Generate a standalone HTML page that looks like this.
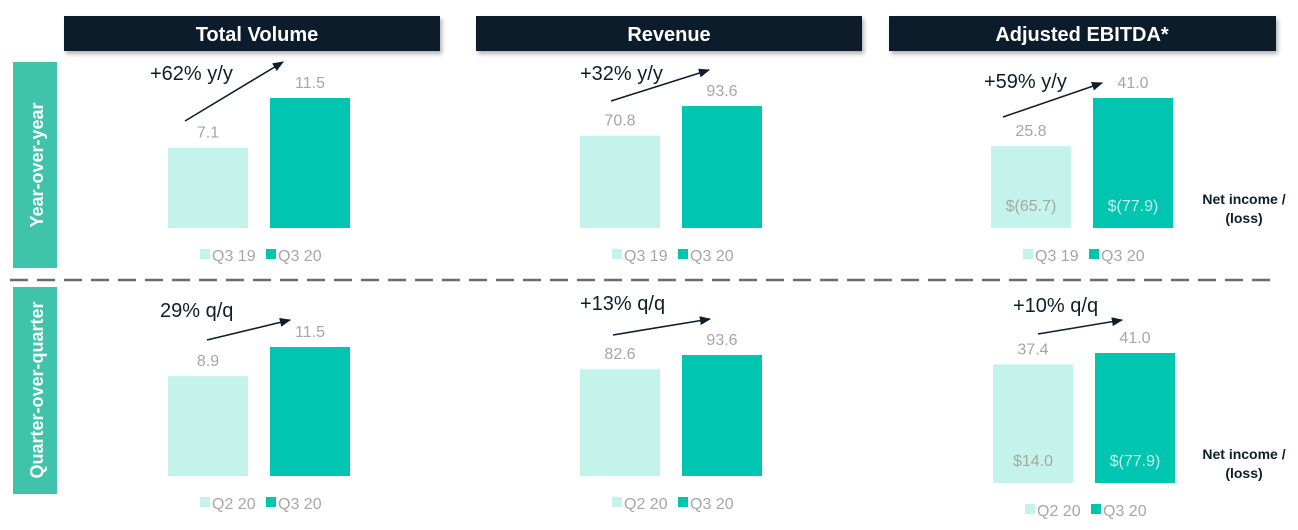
<!DOCTYPE html>
<html><head><meta charset="utf-8"><style>
html,body{margin:0;padding:0;background:#fff;}
svg{display:block;font-family:"Liberation Sans",sans-serif;}
</style></head><body>
<svg id="c" width="1298" height="530" viewBox="0 0 1298 530">
<defs><marker id="ah" viewBox="0 0 10 10" refX="9" refY="5" markerWidth="7" markerHeight="7" orient="auto"><path d="M0,1 L10,5 L0,9 z" fill="#0b1f2c"/></marker>
<filter id="sh" x="-5%" y="-20%" width="110%" height="160%"><feDropShadow dx="2" dy="3" stdDeviation="2" flood-color="#000" flood-opacity="0.3"/></filter></defs>
<g><rect x="64" y="16" width="376" height="35" fill="#0b1f2c" filter="url(#sh)"/><text x="257" y="41" text-anchor="middle" fill="#fff" font-size="20" font-weight="bold">Total Volume</text></g>
<g><rect x="476" y="16" width="386" height="35" fill="#0b1f2c" filter="url(#sh)"/><text x="669" y="41" text-anchor="middle" fill="#fff" font-size="20" font-weight="bold">Revenue</text></g>
<g><rect x="889" y="16" width="387" height="35" fill="#0b1f2c" filter="url(#sh)"/><text x="1082" y="41" text-anchor="middle" fill="#fff" font-size="20" font-weight="bold">Adjusted EBITDA*</text></g>
<g><rect x="13" y="62" width="44" height="206" fill="#3fc3aa"/><text transform="translate(43,165) rotate(-90)" text-anchor="middle" fill="#fff" font-size="18" font-weight="bold">Year-over-year</text></g>
<g><rect x="13" y="287" width="44" height="207" fill="#3fc3aa"/><text transform="translate(43,390) rotate(-90)" text-anchor="middle" fill="#fff" font-size="18" font-weight="bold">Quarter-over-quarter</text></g>
<line x1="10" y1="280" x2="1275" y2="280" stroke="#6b6b6b" stroke-width="2.5" stroke-dasharray="18,9"/>
<g id="marks"></g>
</svg>
<script>
const panelNames = ["tv-yoy","rev-yoy","ebitda-yoy","tv-qoq","rev-qoq","ebitda-qoq"];
const prevValues = [7.1, 70.8, 25.8, 8.9, 82.6, 37.4];
const currValues = [11.5, 93.6, 41.0, 11.5, 93.6, 41.0];
const prevLabels = ["Q3 19","Q3 19","Q3 19","Q2 20","Q2 20","Q2 20"];
const currLabels = ["Q3 20","Q3 20","Q3 20","Q3 20","Q3 20","Q3 20"];
const growthLabels = ["+62% y/y","+32% y/y","+59% y/y","29% q/q","+13% q/q","+10% q/q"];
const netIncomePrev = [null,null,"$(65.7)",null,null,"$14.0"];
const netIncomeCurr = [null,null,"$(77.9)",null,null,"$(77.9)"];
// layout (not data)
const L = [
 {x:168,base:228,maxH:130,ann:[150,80],ar:[185,121,283,62],leg:261},
 {x:580,base:228,maxH:122,ann:[580,80],ar:[611,101,709,70],leg:261},
 {x:991,base:228,maxH:130,ann:[984,88],ar:[1003,117,1102,83],leg:261},
 {x:168,base:476,maxH:129,ann:[160,317],ar:[207,340,290,320],leg:509},
 {x:580,base:476,maxH:121,ann:[580,310],ar:[613,335,710,319],leg:509},
 {x:993,base:483,maxH:130,ann:[1013,312],ar:[1038,334,1122,320],leg:516}
];
const NS="http://www.w3.org/2000/svg", g=document.getElementById('marks');
function mk(t,a,txt){const e=document.createElementNS(NS,t);for(const k in a)e.setAttribute(k,a[k]);if(txt!=null)e.textContent=txt;g.appendChild(e);return e;}
panelNames.forEach((n,i)=>{
 const l=L[i], mx=Math.max(prevValues[i],currValues[i]);
 const y=v=>l.base-v/mx*l.maxH;
 const bw=80, x1=l.x, x2=l.x+102;
 let b=mk('rect',{x:x1,y:y(prevValues[i]),width:bw,height:l.base-y(prevValues[i]),fill:'#c4f3eb'});
 
 
 b=mk('rect',{x:x2,y:y(currValues[i]),width:bw,height:l.base-y(currValues[i]),fill:'#00c5b0'});
 
 
 let t=mk('text',{x:x1+40,y:y(prevValues[i])-10,'text-anchor':'middle','font-size':16,fill:'#a6a6a6'},prevValues[i].toFixed(1));
 
 
 t=mk('text',{x:x2+40,y:y(currValues[i])-10,'text-anchor':'middle','font-size':16,fill:'#a6a6a6'},currValues[i].toFixed(1));
 
 
 t=mk('text',{x:l.ann[0],y:l.ann[1],'font-size':20,fill:'#0b1f2c'},growthLabels[i]);
 
 
 const a=mk('line',{x1:l.ar[0],y1:l.ar[1],x2:l.ar[2],y2:l.ar[3],stroke:'#0b1f2c','stroke-width':1.6,'marker-end':'url(#ah)'});
 
 
 const lx=x1+32;
 let s=mk('rect',{x:lx,y:l.leg-12,width:10,height:10,fill:'#c4f3eb'});
 
 
 t=mk('text',{x:lx+12,y:l.leg,'font-size':16,fill:'#a6a6a6'},prevLabels[i]);
 
 
 s=mk('rect',{x:lx+66,y:l.leg-12,width:10,height:10,fill:'#00c5b0'});
 
 
 t=mk('text',{x:lx+78,y:l.leg,'font-size':16,fill:'#a6a6a6'},currLabels[i]);
 
 
 if(netIncomePrev[i]){
  const ny=l.base-17;
  t=mk('text',{x:x1+40,y:ny,'text-anchor':'middle','font-size':16,fill:'#a6a6a6'},netIncomePrev[i]);
  
  
  t=mk('text',{x:x2+40,y:ny,'text-anchor':'middle','font-size':16,fill:'#c4f3eb'},netIncomeCurr[i]);
  
  
  t=mk('text',{x:1244,y:ny-7,'text-anchor':'middle','font-size':14,'font-weight':'bold',fill:'#0b1f2c'},'Net income /');
  
  
  t=mk('text',{x:1244,y:ny+12,'text-anchor':'middle','font-size':14,'font-weight':'bold',fill:'#0b1f2c'},'(loss)');
  
  
 }
});
</script>
</body></html>
